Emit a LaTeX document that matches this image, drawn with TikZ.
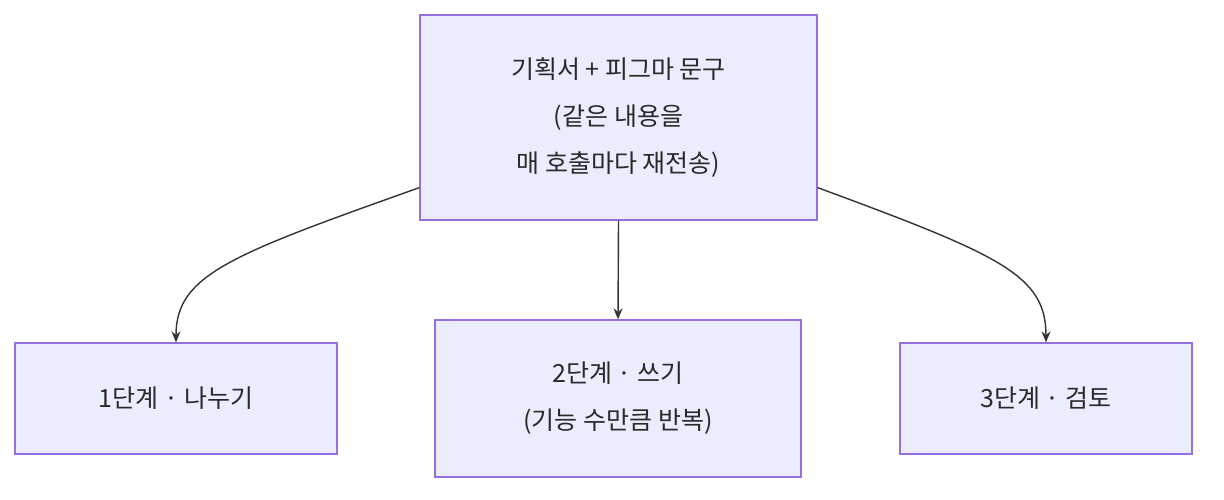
\documentclass[tikz,border=0pt]{standalone}
\usepackage{fontspec}
\newfontfamily\cjk{Noto Sans CJK KR}
\usetikzlibrary{arrows.meta, positioning, calc}
\definecolor{boxfill}{HTML}{ECECFF}
\definecolor{boxline}{HTML}{9370DB}
\definecolor{edgegray}{HTML}{333333}
\tikzset{
  stagebox/.style={draw=boxline, fill=boxfill, line width=1.3pt, align=center,
    font=\cjk\fontsize{25}{47}\selectfont, text=edgegray!80!black, inner sep=0pt},
  flow/.style={-{Stealth[length=11pt,width=9pt]}, draw=edgegray, line width=1.4pt}
}
\begin{document}
\begin{tikzpicture}[x=1pt,y=1pt]
  \useasboundingbox (0,0) rectangle (1224,500);
  % prompt source
  \node[stagebox, minimum width=397pt, minimum height=205pt] (src) at (618.5,382.5)
    {기획서 + 피그마 문구\\(같은 내용을\\매 호출마다 재전송)};

  % three stages
  \node[stagebox, minimum width=322pt, minimum height=111pt] (split) at (176,101.5) {1단계 · 나누기};
  \node[stagebox, minimum width=366pt, minimum height=157pt] (write) at (618,101.5) {2단계 · 쓰기\\(기능 수만큼 반복)};
  \node[stagebox, minimum width=292pt, minimum height=111pt] (review) at (1046,101.5) {3단계 · 검토};

  % connectors
  \draw[flow] ($(src.south west)+(0,33)$) .. controls (230,245) and (176,225) .. (split.north);
  \draw[flow] (src.south) -- (write.north);
  \draw[flow] ($(src.south east)+(0,33)$) .. controls (1000,245) and (1046,225) .. (review.north);
\end{tikzpicture}
\end{document}
